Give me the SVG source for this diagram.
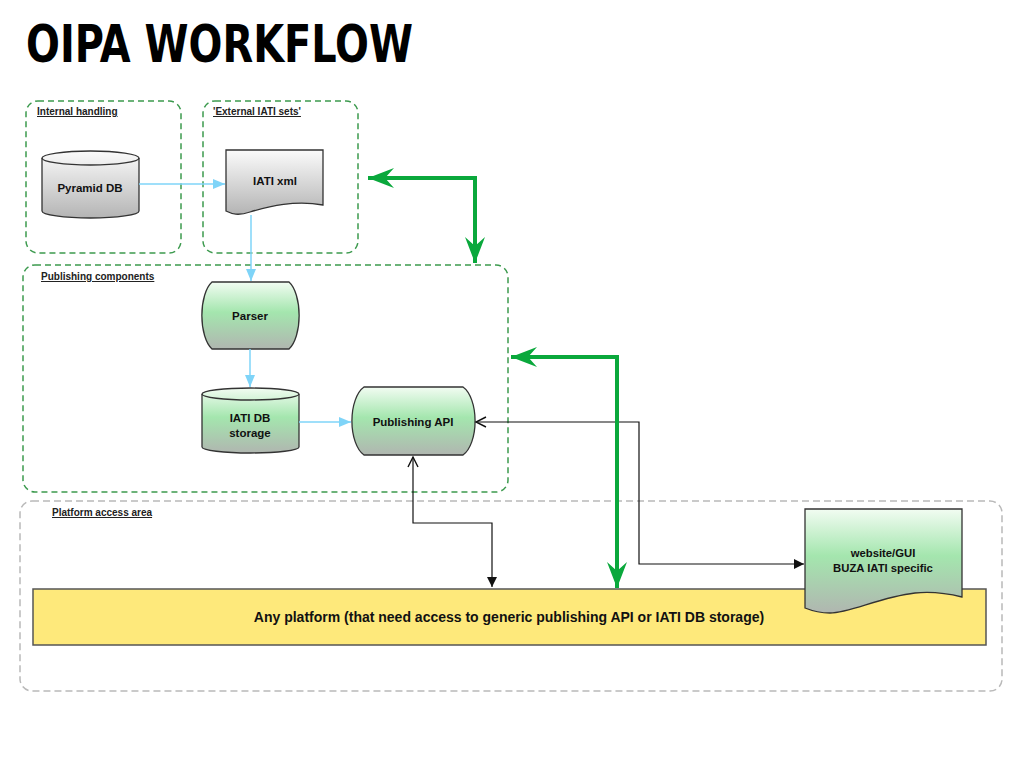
<svg xmlns="http://www.w3.org/2000/svg" width="1024" height="768" viewBox="0 0 1024 768">
<style>
.title{font-family:"DejaVu Sans","Liberation Sans",sans-serif;font-weight:bold;font-stretch:condensed;font-size:51px;fill:#000}
.grp{fill:none;stroke:#3c9a4e;stroke-width:1.5;stroke-dasharray:6,4}
.grp2{fill:none;stroke:#b9b9b9;stroke-width:1.5;stroke-dasharray:7,4}
.glabel{font-family:"Liberation Sans",Arial,sans-serif;font-weight:bold;font-size:10px;fill:#222;text-decoration:underline}
.shape{stroke:#333;stroke-width:1.3}
.lbl{font-family:"Liberation Sans",Arial,sans-serif;font-weight:bold;font-size:11.5px;fill:#111;text-anchor:middle}
.blue{fill:none;stroke:#7fd4f8;stroke-width:1.5}
.blk{fill:none;stroke:#111;stroke-width:1.2}
.grn{fill:none;stroke:#0aa83c;stroke-width:4}
</style>
<defs>
<linearGradient id="gGreen" x1="0" y1="0" x2="0" y2="1">
<stop offset="0" stop-color="#f2fcf2"/>
<stop offset="0.45" stop-color="#a4e6ae"/>
<stop offset="1" stop-color="#b0b6b0"/>
</linearGradient>
<linearGradient id="gGray" x1="0" y1="0" x2="0" y2="1">
<stop offset="0" stop-color="#fbfbfb"/>
<stop offset="1" stop-color="#b4b4b4"/>
</linearGradient>
<marker id="aBlue" markerUnits="userSpaceOnUse" markerWidth="14" markerHeight="12" refX="12" refY="5" orient="auto">
<path d="M0,0 L12,5 L0,10 Z" fill="#7fd4f8"/>
</marker>
<marker id="aBlk" markerUnits="userSpaceOnUse" markerWidth="12" markerHeight="12" refX="10" refY="5" orient="auto-start-reverse">
<path d="M0,0 L10,5 L0,10 Z" fill="#111"/>
</marker>
<marker id="aOpen" markerUnits="userSpaceOnUse" markerWidth="14" markerHeight="14" refX="11" refY="6" orient="auto-start-reverse">
<path d="M1,1 L11,6 L1,11" fill="none" stroke="#111" stroke-width="1.4"/>
</marker>
<marker id="aGrn" markerUnits="userSpaceOnUse" markerWidth="28" markerHeight="22" refX="26" refY="10" orient="auto-start-reverse">
<path d="M0,0 L26,10 L0,20 L9,10 Z" fill="#0aa83c"/>
</marker>
</defs>

<text class="title" x="26" y="62" textLength="387" lengthAdjust="spacingAndGlyphs">OIPA WORKFLOW</text>

<g id="internal-handling">
<rect class="grp" x="26" y="101" width="155" height="152" rx="12"/>
<text class="glabel" x="37" y="115">Internal handling</text>
</g>
<g id="external-iati-sets">
<rect class="grp" x="203" y="101" width="155" height="152" rx="12"/>
<text class="glabel" x="213" y="115">'External IATI sets'</text>
</g>
<g id="publishing-components">
<rect class="grp" x="23" y="265" width="485" height="227" rx="12"/>
<text class="glabel" x="41" y="280">Publishing components</text>
</g>
<g id="platform-access-area">
<rect class="grp2" x="20" y="501" width="982" height="190" rx="12"/>
<text class="glabel" x="52" y="516">Platform access area</text>
</g>

<g id="pyramid-db">
<path class="shape" fill="url(#gGray)" d="M42,158 A48.5,7 0 0 1 139,158 V211 A48.5,7 0 0 1 42,211 Z"/>
<path class="shape" fill="none" d="M42,158 A48.5,7 0 0 0 139,158"/>
<text class="lbl" x="90" y="192">Pyramid DB</text>
</g>

<g id="iati-xml">
<path class="shape" fill="url(#gGray)" d="M226,150 H323 V205 C295,200 270,206 250,212 C238,216 232,214 226,211 Z"/>
<text class="lbl" x="275" y="185">IATI xml</text>
</g>

<g id="parser">
<path class="shape" fill="url(#gGreen)" d="M212,282 H289 A16,36 0 0 1 289,349 H212 A16,36 0 0 1 212,282 Z"/>
<text class="lbl" x="250" y="320">Parser</text>
</g>

<g id="iati-db-storage">
<path class="shape" fill="url(#gGreen)" d="M202,394 A48.5,6 0 0 1 299,394 V447 A48.5,6 0 0 1 202,447 Z"/>
<path class="shape" fill="none" d="M202,394 A48.5,6 0 0 0 299,394"/>
<text class="lbl" x="250" y="422">IATI DB</text>
<text class="lbl" x="250" y="437">storage</text>
</g>

<g id="publishing-api">
<path class="shape" fill="url(#gGreen)" d="M364,387 H463 A18,36 0 0 1 463,455 H364 A18,36 0 0 1 364,387 Z"/>
<text class="lbl" x="413" y="426">Publishing API</text>
</g>

<g id="any-platform">
<rect x="33" y="589" width="953" height="56" fill="#fee97b" stroke="#555" stroke-width="1.5"/>
<text class="lbl" x="509" y="622" style="font-size:14px">Any platform (that need access to generic publishing API or IATI DB storage)</text>
</g>

<g id="website-gui">
<path class="shape" fill="url(#gGreen)" d="M805,509 H962 V597 C950,594 935,591 915,593 C880,597 850,613 830,613 C818,613 810,610 805,608 Z"/>
<text class="lbl" x="883" y="557" style="font-size:11.3px">website/GUI</text>
<text class="lbl" x="883" y="572" style="font-size:11.3px">BUZA IATI specific</text>
</g>

<g id="connectors">
<path class="blue" d="M139,184 H225" marker-end="url(#aBlue)"/>
<path class="blue" d="M251,215 V281" marker-end="url(#aBlue)"/>
<path class="blue" d="M250,349 V387" marker-end="url(#aBlue)"/>
<path class="blue" d="M299,422 H351" marker-end="url(#aBlue)"/>
<path class="blk" d="M413,457 V523 H492 V587" marker-start="url(#aOpen)" marker-end="url(#aBlk)"/>
<path class="blk" d="M476,422 H639 V564 H804" marker-start="url(#aOpen)" marker-end="url(#aBlk)"/>
<path class="grn" d="M368,178 H475 V263" marker-start="url(#aGrn)" marker-end="url(#aGrn)"/>
<path class="grn" d="M511,357 H617 V588" marker-start="url(#aGrn)" marker-end="url(#aGrn)"/>
</g>
</svg>
